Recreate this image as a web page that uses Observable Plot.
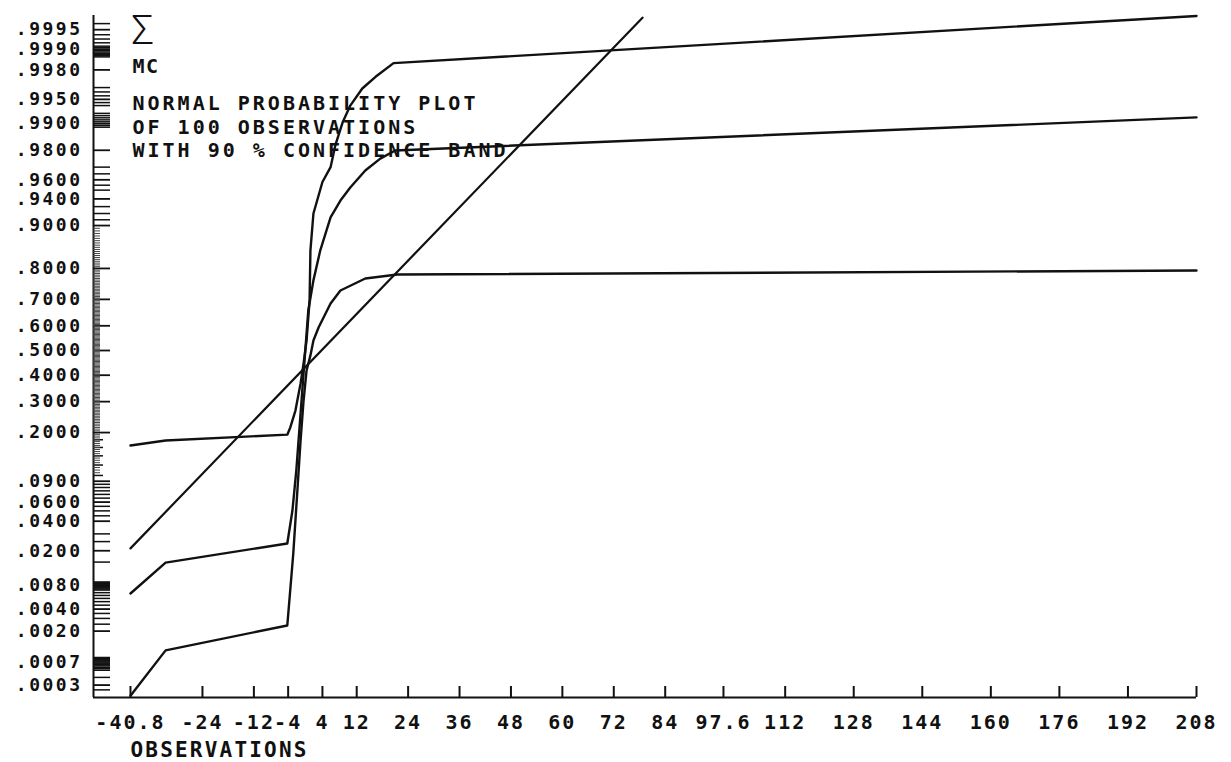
<!DOCTYPE html>
<html><head><meta charset="utf-8">
<script src="https://cdn.jsdelivr.net/npm/d3@7"></script>
<script src="https://cdn.jsdelivr.net/npm/@observablehq/plot@0.6"></script>
<style>
html,body{margin:0;padding:0;background:#fff;overflow:hidden}
#chart svg{background:#fff}
#chart svg text{font-family:"DejaVu Sans Mono",monospace;fill:#111;font-weight:bold}
</style></head><body><div id="chart"></div>
<script>
// ---- data ----
const xTicks = [-40.8,-24,-12,-4,4,12,24,36,48,60,72,84,97.6,112,128,144,160,176,192,208];
const yTickLabels = [".9995",".9990",".9980",".9950",".9900",".9800",".9600",".9400",".9000",".8000",".7000",".6000",".5000",".4000",".3000",".2000",".0900",".0600",".0400",".0200",".0080",".0040",".0020",".0007",".0003"];
const yMinorLong = [.9996,.9994,.9993,.9992,.9991,.99905,.99895,.9989,.99885,.9988,.99875,.9987,
  .9965,.9960,.9955,.9945,.9940,.9925,.9920,.9915,.9910,.9905,.9895,.9890,
  .970,.965,.955,.950,.930,.920,.910,
  .085,.080,.075,.070,.065,.055,.050,.045,.030,.025,.015,
  .0088,.0086,.0084,.0082,.0078,.0076,.0074,.0072,.0070,
  .0065,.0060,.0055,.0050,.0045,.0035,.0030,.0025,
  .00082,.00079,.00076,.00073,.00067,.00064,.00061,.00058,.00055,.00052,.0004,.00025];
const yMinorMid = [.18,.16,.14,.12,.10];
const yMinorShortBands = [[.805,.895,.005],[.205,.795,.005],[.105,.195,.005]];

const upperX = [-40.8,-32.6,-4.2,-3.5,-2.3,-1.1,-0.4,0.3,1.0,1.2,1.9,4.0,5.9,7.0,8.7,10.5,13.3,16.4,20.6,208];
const upperP = [.165,.178,.194,.215,.269,.368,.447,.541,.696,.848,.920,.958,.970,.9823,.9903,.9940,.9964,.9975,.9984,.9997];
const midX = [-40.8,-32.6,-4.2,-3.0,-2.1,-1.4,-0.7,0.0,0.7,1.9,3.5,5.9,8.2,10.5,14.0,17.5,21.0,208];
const midP = [.00635,.0148,.0239,.0504,.109,.206,.341,.5,.659,.764,.848,.914,.938,.9527,.9676,.9755,.9799,.9916];
const lowerX = [-40.8,-32.6,-4.2,-2.8,-1.8,-1.1,-0.4,0.3,1.2,1.9,3.1,5.9,8.2,14.0,21.5,208];
const lowerP = [.0002,.00105,.0024,.0187,.080,.178,.304,.419,.480,.541,.593,.685,.731,.770,.782,.794];
const fitX = [-40.8,78.7];
const fitP = [.0212,.99968];

const titleLines = ["NORMAL PROBABILITY PLOT","OF 100 OBSERVATIONS","WITH 90 % CONFIDENCE BAND"];
const xLabel = "OBSERVATIONS";

// ---- inverse normal CDF (probit) ----
function probit(p){
  const a=[-3.969683028665376e+01,2.209460984245205e+02,-2.759285104469687e+02,1.383577518672690e+02,-3.066479806614716e+01,2.506628277459239e+00];
  const b=[-5.447609879822406e+01,1.615858368580409e+02,-1.556989798598866e+02,6.680131188771972e+01,-1.328068155288572e+01];
  const c=[-7.784894002430293e-03,-3.223964580411365e-01,-2.400758277161838e+00,-2.549671010173216e+00,4.374664141464968e+00,2.938163982698783e+00];
  const d=[7.784695709041462e-03,3.224671290700398e-01,2.445134137142996e+00,3.754408661907416e+00];
  const pl=0.02425, ph=1-pl; let q,r;
  if(p<pl){q=Math.sqrt(-2*Math.log(p));return (((((c[0]*q+c[1])*q+c[2])*q+c[3])*q+c[4])*q+c[5])/((((d[0]*q+d[1])*q+d[2])*q+d[3])*q+1);}
  if(p<=ph){q=p-0.5;r=q*q;return (((((a[0]*r+a[1])*r+a[2])*r+a[3])*r+a[4])*r+a[5])*q/(((((b[0]*r+b[1])*r+b[2])*r+b[3])*r+b[4])*r+1);}
  q=Math.sqrt(-2*Math.log(1-p));return -(((((c[0]*q+c[1])*q+c[2])*q+c[3])*q+c[4])*q+c[5])/((((d[0]*q+d[1])*q+d[2])*q+d[3])*q+1);
}

// ---- layout ----
const W=1231,H=762, mL=93, mR=35, mT=15, mB=65;
const XMIN=-49.43, XMAX=208, ZMIN=-3.559, ZMAX=3.436;
const kx=(W-mL-mR)/(XMAX-XMIN), kz=(H-mT-mB)/(ZMAX-ZMIN);

const toRows=(xs,ps)=>xs.map((x,i)=>({x, z: probit(ps[i])}));
const yShort = yMinorShortBands.flatMap(([a,b,s])=>d3.range(a,b+1e-9,s));
const labelByZ = new Map(yTickLabels.map(s=>[probit(+s), s]));
const yLabelZ = [...labelByZ.keys()];

const ink="#111";
const chart = Plot.plot({
  width: W, height: H, marginLeft: mL, marginRight: mR, marginTop: mT, marginBottom: mB,
  x: {domain: [XMIN, XMAX]},
  y: {domain: [ZMIN, ZMAX]},
  style: {background: "#fff", color: ink},
  marks: [
    Plot.ruleX([XMIN], {stroke: ink, strokeWidth: 2}),
    Plot.ruleY([ZMIN], {stroke: ink, strokeWidth: 2}),
    Plot.ruleX(xTicks, {x: d=>d, y1: ZMIN, y2: ZMIN + 11/kz, stroke: ink, strokeWidth: 2}),
    Plot.ruleY(yLabelZ, {y: d=>d, x1: XMIN, x2: XMIN + 17/kx, stroke: ink, strokeWidth: 1.8}),
    Plot.ruleY(yMinorLong, {y: probit, x1: XMIN, x2: XMIN + 17/kx, stroke: ink, strokeWidth: 1.5}),
    Plot.ruleY(yMinorMid, {y: probit, x1: XMIN, x2: XMIN + 10/kx, stroke: ink, strokeWidth: 1.5}),
    Plot.ruleY(yShort, {y: probit, x1: XMIN, x2: XMIN + 7/kx, stroke: "#444", strokeWidth: 1}),
    Plot.axisY({ticks: yLabelZ, tickSize: 0, tickPadding: 11, tickFormat: z => labelByZ.get(z), fontSize: 18, label: null, ariaDescription: "ylab"}),
    Plot.axisX({ticks: xTicks, tickSize: 0, tickPadding: 17, tickFormat: d => String(d), fontSize: 20, label: null, ariaDescription: "xlab"}),
    Plot.line(toRows(fitX, fitP), {x: "x", y: "z", stroke: ink, strokeWidth: 2.2}),
    Plot.line(toRows(upperX, upperP), {x: "x", y: "z", stroke: ink, strokeWidth: 2.4, strokeLinejoin: "round"}),
    Plot.line(toRows(midX, midP), {x: "x", y: "z", stroke: ink, strokeWidth: 2.4, strokeLinejoin: "round"}),
    Plot.line(toRows(lowerX, lowerP), {x: "x", y: "z", stroke: ink, strokeWidth: 2.4, strokeLinejoin: "round"}),
    Plot.text(["Σ"], {text: d=>d, frameAnchor: "top-left", dx: 38, dy: 0, textAnchor: "start", lineAnchor: "top", fontSize: 40, fontFamily: "Roboto", fontWeight: 300, ariaDescription: "sigma"}),
    Plot.text(["MC"], {text: d=>d, frameAnchor: "top-left", dx: 39, dy: 51, textAnchor: "start", lineAnchor: "middle", fontSize: 20, ariaDescription: "mc"}),
    Plot.text([titleLines.join("\n")], {text: d=>d, frameAnchor: "top-left", dx: 39, dy: 78, textAnchor: "start", lineAnchor: "top", fontSize: 20, lineHeight: 1.175, ariaDescription: "title"}),
    Plot.text([xLabel], {text: d=>d, frameAnchor: "bottom-left", dx: 37, dy: 53, textAnchor: "start", lineAnchor: "middle", fontSize: 21, ariaDescription: "xname"})
  ]
});
document.getElementById("chart").appendChild(chart);
const spacing = {ylab: "2.5px", xlab: "2px", title: "3px", mc: "1.5px", xname: "2.2px"};
chart.querySelectorAll("g[aria-description]").forEach(g => {
  const s = spacing[g.getAttribute("aria-description")];
  if (s) g.querySelectorAll("text").forEach(t => t.style.letterSpacing = s);
});
chart.querySelectorAll('g[aria-description="sigma"] text').forEach(t => { t.style.fontFamily = "Roboto"; t.style.fontWeight = "300"; });
</script></body></html>
